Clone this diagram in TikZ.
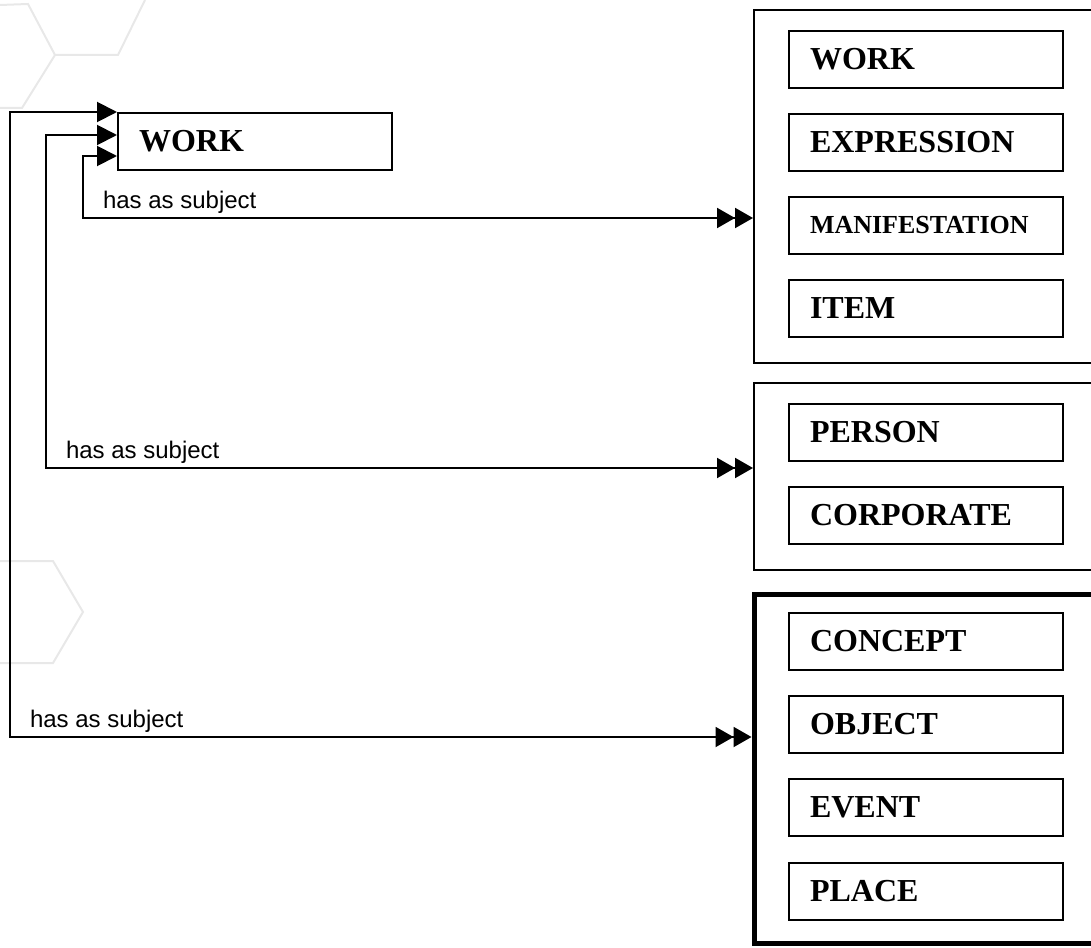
\documentclass[tikz,border=0pt]{standalone}
\usepackage{fontspec}
\setmainfont{Liberation Serif}
\newfontfamily\relfont{Liberation Sans}
\usetikzlibrary{arrows.meta,positioning}

\begin{document}
\begin{tikzpicture}[x=0.5pt, y=-0.5pt,
  entity/.style={draw, line width=1pt, minimum width=137pt, minimum height=28.5pt,
    inner xsep=10.5pt, inner ysep=0pt, text width=116pt, align=left,
    font=\fontsize{16}{18}\selectfont\bfseries},
  group/.style={draw, line width=1pt, anchor=north west, minimum width=180pt},
  rel/.style={anchor=base west, inner sep=0pt, xshift=9.5pt, yshift=4.75pt, font=\fontsize{12}{14}\relfont},
  tie/.style={line width=1pt, arrows={Triangle[length=10pt,width=10pt]-Triangle[length=9pt,width=10pt,sep=0pt]Triangle[length=9pt,width=10pt,sep=0pt]}},
  hex/.style={draw=black!9, line width=1pt}]

  \useasboundingbox (0,0) rectangle (1091,947);
  \clip (0,0) rectangle (1091,947);

  % faint background
  \draw[hex] (0,5) -- (28,4) -- (55,55) -- (118,55) -- (145,0);
  \draw[hex] (55,55) -- (22,108) -- (0,108);
  \draw[hex] (0,561) -- (53,561) -- (83,612) -- (53,663) -- (0,663);

  \node[entity] (work) at (255,141.5) {WORK};

  % group 1
  \node[group, minimum height=176.5pt] (grpA) at (753,9) {};
  \node[entity] (workA) at (926,59.5) {WORK};
  \node[entity] (expr) at (926,142.5) {EXPRESSION};
  \node[entity, font=\fontsize{13}{15}\selectfont\bfseries] (manif) at (926,225.5) {MANIFESTATION};
  \node[entity] (item) at (926,308.5) {ITEM};

  % group 2
  \node[group, minimum height=93.5pt] (grpB) at (753,382) {};
  \node[entity] (person) at (926,432.5) {PERSON};
  \node[entity] (corp) at (926,515.5) {CORPORATE};

  % group 3
  \node[group, line width=2.5pt, minimum height=174.5pt] (grpC) at (751.5,591.5) {};
  \node[entity] (concept) at (926,641.5) {CONCEPT};
  \node[entity] (object) at (926,724.5) {OBJECT};
  \node[entity] (event) at (926,807.5) {EVENT};
  \node[entity] (place) at (926,891.5) {PLACE};

  \coordinate (bendA) at (83,218);
  \coordinate (bendB) at (46,468);
  \coordinate (bendC) at (10,737);

  \draw[tie] ([yshift=-7.25pt]work.west) -| (bendA) node[rel] {has as subject} -- (bendA -| grpA.west);
  \draw[tie] ([yshift=3.25pt]work.west) -| (bendB) node[rel] {has as subject} -- (bendB -| grpB.west);
  \draw[tie] (work.north west) -| (bendC) node[rel] {has as subject} -- (bendC -| grpC.west);
\end{tikzpicture}
\end{document}
